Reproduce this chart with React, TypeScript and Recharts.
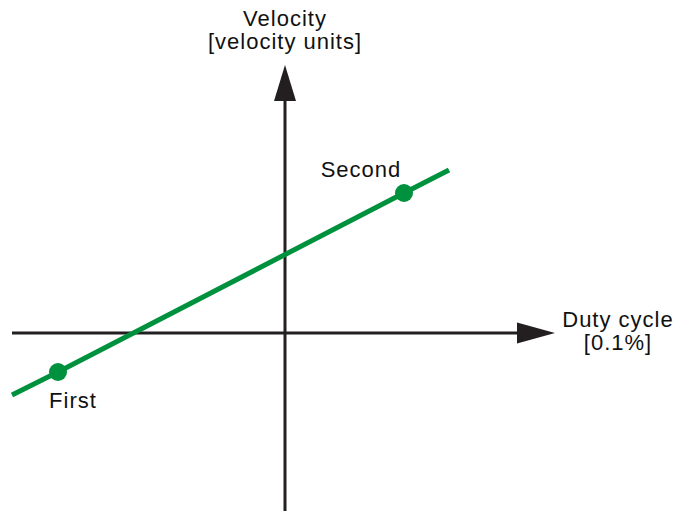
import { ComposedChart, Line, Scatter, XAxis, YAxis, ReferenceLine, ReferenceDot } from "recharts";

// duty cycle / velocity, in 0.1% and velocity units (10 px per unit)
const lineDuty = [-27.3, -22.7, 11.9, 16.4];
const lineVelocity = [-6.2, -3.9, 14.0, 16.3];

const pointNames = ["First", "Second"];
const pointDuty = [-22.7, 11.9];
const pointVelocity = [-3.9, 14.0];

const xTitle = ["Duty cycle", "[0.1%]"];
const yTitle = ["Velocity", "[velocity units]"];

const xDomain = [-28.5, 39.3];
const yDomain = [-17.8, 33.3];
const xAxisStart = -27.3;
const xAxisTip = 27.0;
const yAxisStart = -17.8;
const yAxisTip = 26.8;

const GREEN = "#00913f";
const INK = "#231f20";
const FONT = "'Liberation Sans', Arial, sans-serif";

const lineData = lineDuty.map((x, i) => ({ x, y: lineVelocity[i] }));
const pointData = pointNames.map((name, i) => ({ name, x: pointDuty[i], y: pointVelocity[i] }));

// where each point's label sits relative to the dot
const labelOffset: Record<string, [number, number]> = {
  First: [15, 36],
  Second: [-43, -16],
};

const txt = { fontFamily: FONT, fontSize: 22, letterSpacing: 1, fill: "#111" };

const PointShape = (props: any) => {
  const { cx, cy, payload } = props;
  const [dx, dy] = labelOffset[payload.name] || [0, -20];
  return (
    <g>
      <circle cx={cx} cy={cy} r={9} fill={GREEN} />
      <text x={cx + dx} y={cy + dy} textAnchor="middle" {...txt}>
        {payload.name}
      </text>
    </g>
  );
};

const RightArrow = (props: any) => {
  const { cx, cy } = props;
  return (
    <g>
      <polygon points={`${cx},${cy} ${cx - 38},${cy - 10.5} ${cx - 38},${cy + 10.5}`} fill={INK} />
      <text x={cx + 63} y={cy - 6} textAnchor="middle" {...txt}>{xTitle[0]}</text>
      <text x={cx + 63} y={cy + 17} textAnchor="middle" {...txt}>{xTitle[1]}</text>
    </g>
  );
};

const UpArrow = (props: any) => {
  const { cx, cy } = props;
  return (
    <g>
      <polygon points={`${cx},${cy} ${cx - 11},${cy + 36} ${cx + 11},${cy + 36}`} fill={INK} />
      <text x={cx} y={cy - 39} textAnchor="middle" {...txt}>{yTitle[0]}</text>
      <text x={cx} y={cy - 16} textAnchor="middle" {...txt}>{yTitle[1]}</text>
    </g>
  );
};

export default function App() {
  return (
    <div style={{ position: "absolute", left: 0, top: 0, width: 678, height: 511, background: "#fff" }}>
      <ComposedChart width={678} height={511} margin={{ top: 0, right: 0, bottom: 0, left: 0 }}>
        <XAxis type="number" dataKey="x" domain={xDomain} hide allowDataOverflow />
        <YAxis type="number" dataKey="y" domain={yDomain} hide allowDataOverflow />

        <ReferenceLine
          segment={[{ x: xAxisStart, y: 0 }, { x: xAxisTip - 3, y: 0 }]}
          stroke={INK}
          strokeWidth={3}
          ifOverflow="visible"
        />
        <ReferenceLine
          segment={[{ x: 0, y: yAxisStart }, { x: 0, y: yAxisTip - 3 }]}
          stroke={INK}
          strokeWidth={3}
          ifOverflow="visible"
        />
        <ReferenceDot x={xAxisTip} y={0} ifOverflow="visible" shape={RightArrow} />
        <ReferenceDot x={0} y={yAxisTip} ifOverflow="visible" shape={UpArrow} />

        <Line
          data={lineData}
          dataKey="y"
          type="linear"
          stroke={GREEN}
          strokeWidth={5}
          dot={false}
          activeDot={false}
          isAnimationActive={false}
        />
        <Scatter data={pointData} dataKey="y" shape={PointShape} isAnimationActive={false} />
      </ComposedChart>
    </div>
  );
}
